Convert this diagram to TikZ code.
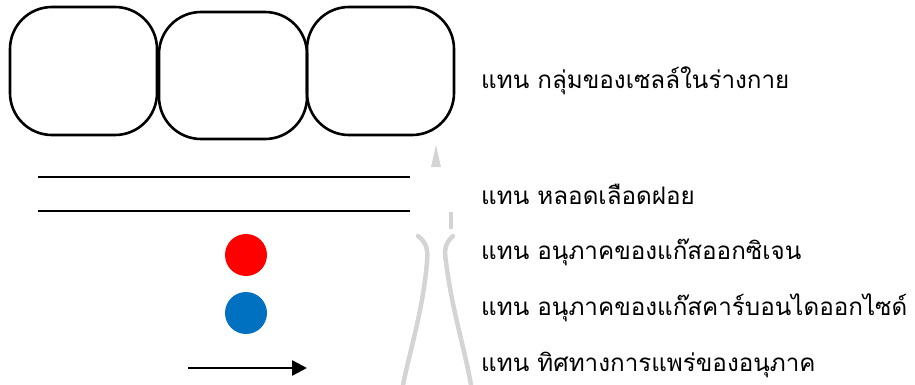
\documentclass[tikz,border=0pt]{standalone}
\usepackage{fontspec}
\usetikzlibrary{arrows.meta}
\newfontfamily\thaifont[Script=Thai]{Loma}
\definecolor{oxy}{HTML}{FF0000}
\definecolor{cotwo}{HTML}{0070C0}
\definecolor{wm}{HTML}{D4D4D4}
\tikzset{
  cell/.style={draw=black, line width=2.6pt, rounded corners=42pt, inner sep=0pt},
  lbl/.style={anchor=west, inner sep=0pt, font=\thaifont\fontsize{24.2}{28}\selectfont},
  vessel/.style={draw=black, line width=2pt},
  dot/.style={circle, inner sep=0pt, minimum size=42pt}
}
\begin{document}
\begin{tikzpicture}[x=1pt,y=-1pt]
\useasboundingbox (0,0) rectangle (915,385);
% faint watermark
\fill[wm] (431,167) -- (436,145) -- (441,167) -- cycle;
\draw[wm, line width=4pt] (451,212) -- (451,229);
\draw[wm, line width=4.5pt, line cap=round] (418,236) .. controls (427,243) and (428,250) .. (427,262) .. controls (423,310) and (410,350) .. (403,385);
\draw[wm, line width=4.5pt, line cap=round] (453,236) .. controls (445,243) and (444,250) .. (446,262) .. controls (452,310) and (465,350) .. (471,385);
% cells
\node[cell, minimum width=147pt, minimum height=128pt] (c1) at (83.5,71) {};
\node[cell, minimum width=148pt, minimum height=127pt] (c2) at (233,75.5) {};
\node[cell, minimum width=147pt, minimum height=128pt] (c3) at (380.5,71) {};
% capillary
\coordinate (v1a) at (38,177); \coordinate (v1b) at (410,177);
\coordinate (v2a) at (38,211); \coordinate (v2b) at (410,211);
\draw[vessel] (v1a) -- (v1b);
\draw[vessel] (v2a) -- (v2b);
% particles
\node[dot, fill=oxy] (o2) at (246,255) {};
\node[dot, fill=cotwo] (co2) at (246,313) {};
% arrow
\coordinate (aa) at (188,368); \coordinate (ab) at (307,368);
\draw[line width=2.6pt, -{Triangle[length=15pt,width=15pt]}] (aa) -- (ab);
% labels
\node[lbl] (t1) at (481,81) {แทน กลุ่มของเซลล์ในร่างกาย};
\node[lbl] (t2) at (481,194) {แทน หลอดเลือดฝอย};
\node[lbl] (t3) at (481,252) {แทน อนุภาคของแก๊สออกซิเจน};
\node[lbl] (t4) at (481,308) {แทน อนุภาคของแก๊สคาร์บอนไดออกไซด์};
\node[lbl] (t5) at (481,365) {แทน ทิศทางการแพร่ของอนุภาค};
\end{tikzpicture}
\end{document}
